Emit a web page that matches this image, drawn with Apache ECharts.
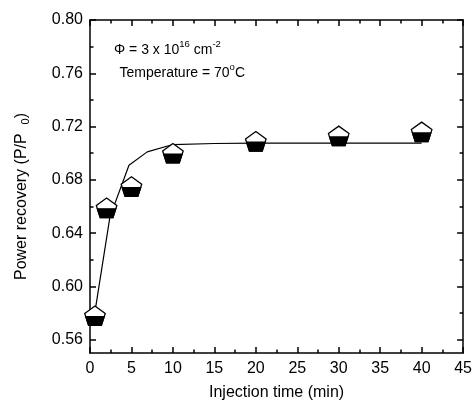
<!DOCTYPE html>
<html>
<head>
<meta charset="utf-8">
<script src="https://cdn.jsdelivr.net/npm/echarts@6/dist/echarts.min.js"></script>
<style>
html,body{margin:0;padding:0;background:#fff;}
#chart{width:475px;height:408px;}
</style>
</head>
<body>
<div id="chart"></div>
<script>
// Measured data points (injection time in min, power recovery P/P0)
const timePoints = [0.6, 2, 5, 10, 20, 30, 40];
const recoveryPoints = [0.578, 0.659, 0.675, 0.700, 0.709, 0.713, 0.716];
// Fitted curve
const fitTime = [0.7, 2.4, 4.7, 6.9, 10, 15, 20, 30, 40];
const fitRecovery = [0.585, 0.652, 0.691, 0.701, 0.7065, 0.7073, 0.7075, 0.7075, 0.7075];
// Tick values
const yMajorTicks = [0.56, 0.60, 0.64, 0.68, 0.72, 0.76, 0.80];
const yMinorTicks = [0.58, 0.62, 0.66, 0.70, 0.74, 0.78];

const FONT = 'Liberation Sans, Arial, Helvetica, sans-serif';
const AX = {color: '#000', width: 1.5};

function yAxisDef(position, ticks, len, showLine, showLabels, extra) {
  return Object.assign({
    type: 'value', min: 0.55, max: 0.80, position: position,
    axisLine: {show: showLine, lineStyle: AX},
    axisTick: {show: true, inside: true, length: len, customValues: ticks, lineStyle: AX},
    axisLabel: showLabels ? {
      show: true, customValues: ticks, margin: 7, fontSize: 16, color: '#000', fontFamily: FONT,
      formatter: v => v.toFixed(2)
    } : {show: false},
    splitLine: {show: false}
  }, extra || {});
}

function xAxisDef(position, showLabels, extra) {
  return Object.assign({
    type: 'value', min: 0, max: 45, interval: 5, position: position,
    axisLine: {show: true, lineStyle: AX},
    axisTick: {show: true, inside: true, length: 6, lineStyle: AX},
    minorTick: {show: true, splitNumber: 2, length: 3.5, lineStyle: AX},
    axisLabel: showLabels ? {show: true, margin: 8, fontSize: 16, color: '#000', fontFamily: FONT} : {show: false},
    splitLine: {show: false}
  }, extra || {});
}

const R = 10.8;
function pentagon(cx, cy) {
  const s = 0.0955 * R;
  const full = [
    [cx, cy - R + s],
    [cx + 0.951 * R, cy - 0.309 * R + s],
    [cx + 0.588 * R, cy + 0.809 * R + s],
    [cx - 0.588 * R, cy + 0.809 * R + s],
    [cx - 0.951 * R, cy - 0.309 * R + s]
  ];
  const lower = [
    [cx - 0.851 * R, cy + s],
    [cx + 0.851 * R, cy + s],
    [cx + 0.588 * R, cy + 0.809 * R + s],
    [cx - 0.588 * R, cy + 0.809 * R + s]
  ];
  return {full, lower};
}

const chart = echarts.init(document.getElementById('chart'), null, {renderer: 'canvas'});
chart.setOption({
  backgroundColor: '#fff',
  animation: false,
  textStyle: {fontFamily: FONT},
  grid: {left: 90, right: 8, top: 20, bottom: 55, containLabel: false},
  xAxis: [
    xAxisDef('bottom', true, {
      name: 'Injection time (min)', nameLocation: 'middle', nameGap: 32,
      nameTextStyle: {fontSize: 16, color: '#000', fontFamily: FONT}
    }),
    xAxisDef('top', false)
  ],
  yAxis: [
    yAxisDef('left', yMajorTicks, 6, true, true, {
      name: '{a|Power recovery (P/P  }{s|0}{a|)}', nameLocation: 'middle', nameGap: 59,
      nameTextStyle: {
        fontSize: 16, color: '#000', fontFamily: FONT, padding: [0, 20, 0, 0],
        rich: {
          a: {fontSize: 16, lineHeight: 18, color: '#000', fontFamily: FONT},
          s: {fontSize: 11, lineHeight: 11, verticalAlign: 'bottom', color: '#000', fontFamily: FONT}
        }
      }
    }),
    yAxisDef('left', yMinorTicks, 3.5, false, false),
    yAxisDef('right', yMajorTicks, 6, true, false),
    yAxisDef('right', yMinorTicks, 3.5, false, false)
  ],
  series: [
    {
      type: 'line', xAxisIndex: 0, yAxisIndex: 0, z: 2,
      data: fitTime.map((t, i) => [t, fitRecovery[i]]),
      showSymbol: false, symbol: 'none', smooth: false,
      lineStyle: {color: '#000', width: 1.2}
    },
    {
      type: 'custom', xAxisIndex: 0, yAxisIndex: 0, z: 3,
      data: timePoints.map((t, i) => [t, recoveryPoints[i]]),
      encode: {x: 0, y: 1},
      renderItem: function (params, api) {
        const c = api.coord([api.value(0), api.value(1)]);
        const p = pentagon(c[0], c[1]);
        return {
          type: 'group',
          children: [
            {type: 'polygon', shape: {points: p.full}, style: {fill: '#fff', stroke: '#000', lineWidth: 1.3}},
            {type: 'polygon', shape: {points: p.lower}, style: {fill: '#000', stroke: '#000', lineWidth: 1.3}}
          ]
        };
      }
    }
  ],
  graphic: [
    {
      type: 'text', left: 114, top: 39,
      style: {
        text: '{m|\u03A6 = 3 x 10}{u|16}{m| cm}{u|-2}',
        fill: '#000', font: '14px ' + FONT,
        rich: {
          m: {fontSize: 14, lineHeight: 18, verticalAlign: 'bottom', fill: '#000', fontFamily: FONT},
          u: {fontSize: 9.5, lineHeight: 10, verticalAlign: 'top', fill: '#000', fontFamily: FONT}
        }
      }
    },
    {
      type: 'text', left: 119.5, top: 62,
      style: {
        text: '{m|Temperature = 70}{u|o}{m|C}',
        fill: '#000', font: '14px ' + FONT,
        rich: {
          m: {fontSize: 14, lineHeight: 18, verticalAlign: 'bottom', fill: '#000', fontFamily: FONT},
          u: {fontSize: 9.5, lineHeight: 10, verticalAlign: 'top', fill: '#000', fontFamily: FONT}
        }
      }
    }
  ]
});
</script>
</body>
</html>
